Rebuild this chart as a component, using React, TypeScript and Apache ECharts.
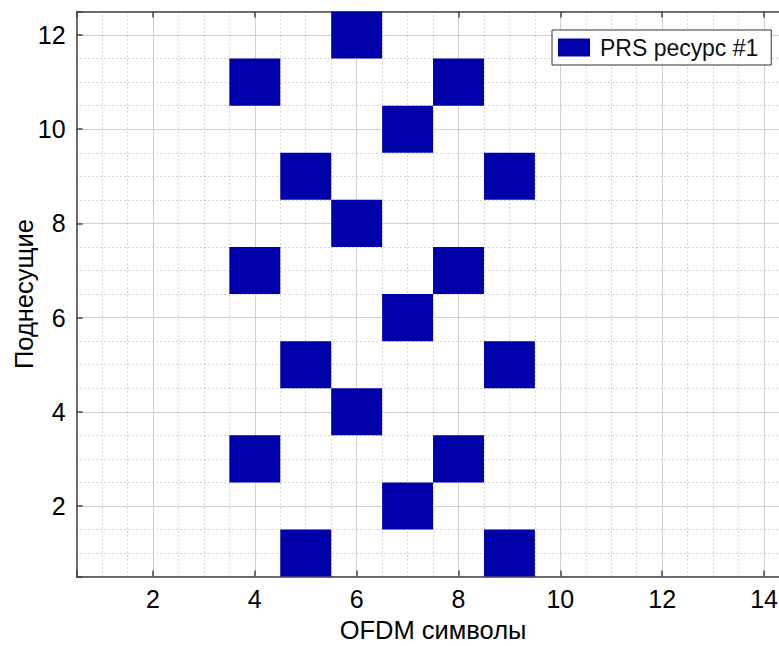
import React, { useEffect, useRef } from "react";
import * as echarts from "echarts";

// Data: each block is one PRS resource element (OFDM symbol, subcarrier)
const ofdmSymbols = [5, 9, 7, 4, 8, 6, 5, 9, 7, 4, 8, 6, 5, 9, 7, 4, 8, 6];
const subcarriers = [1, 1, 2, 3, 3, 4, 5, 5, 6, 7, 7, 8, 9, 9, 10, 11, 11, 12];
const seriesName = "PRS ресурс #1";
const xTitle = "OFDM символы";
const yTitle = "Поднесущие";
const xRange = [0.5, 14.5];
const yRange = [0.5, 12.5];

const FONT = "'Liberation Sans Narrow', 'Arial Narrow', 'Liberation Sans', Arial, sans-serif";
const BLUE = "#0000aa";

export default function App() {
  const ref = useRef<HTMLDivElement>(null);
  useEffect(() => {
    document.body.style.margin = "0";
    const chart = echarts.init(ref.current!, null, { renderer: "svg" });
    const data = ofdmSymbols.map((x, i) => [x, subcarriers[i]]);
    const evenLabel = (v: number) => (Math.abs(v - Math.round(v)) < 1e-6 ? String(v) : "");
    const dotted = { color: "#aaaaaa", width: 1, type: [1, 3] as any };
    chart.setOption({
      animation: false,
      backgroundColor: "#fff",
      textStyle: { fontFamily: FONT },
      grid: { left: 76.6, top: 11.5, right: -10.5, bottom: 69.4, containLabel: false, outerBoundsMode: "none" },
      legend: {
        data: [seriesName],
        left: 552,
        top: 30,
        icon: "rect",
        itemWidth: 32,
        itemHeight: 18,
        padding: [6, 13, 6, 6],
        borderColor: "#333",
        borderWidth: 1,
        backgroundColor: "#fff",
        textStyle: { fontSize: 23, color: "#111", fontFamily: FONT, lineHeight: 20, padding: [0, 0, 0, 5] },
      },
      xAxis: [
        {
          type: "value", min: xRange[0], max: xRange[1], interval: 0.5, position: "bottom",
          axisLine: { show: false }, axisTick: { show: false }, axisLabel: { show: false },
          splitLine: { show: true, lineStyle: dotted },
        },
        {
          type: "value", min: xRange[0], max: xRange[1], splitNumber: 7, position: "bottom",
          axisLine: { show: true, onZero: false, lineStyle: { color: "#444", width: 1.5 } },
          axisTick: { show: true, inside: true, length: 6, lineStyle: { color: "#444", width: 1.5 } },
          axisLabel: { show: true, fontSize: 25, color: "#000", margin: 10, formatter: evenLabel, fontFamily: FONT },
          splitLine: { show: true, lineStyle: { color: "#d0d0d0", width: 1 } },
          name: xTitle, nameLocation: "middle", nameGap: 40, nameMoveOverlap: false,
          nameTextStyle: { fontSize: 25.5, color: "#000", fontFamily: FONT },
        },
        {
          type: "value", min: xRange[0], max: xRange[1], splitNumber: 7, position: "top",
          axisLine: { show: true, onZero: false, lineStyle: { color: "#444", width: 1.5 } },
          axisTick: { show: true, inside: true, length: 6, lineStyle: { color: "#444", width: 1.5 } },
          axisLabel: { show: false }, splitLine: { show: false },
        },
      ],
      yAxis: [
        {
          type: "value", min: yRange[0], max: yRange[1], interval: 0.5, position: "left",
          axisLine: { show: false }, axisTick: { show: false }, axisLabel: { show: false },
          splitLine: { show: true, lineStyle: dotted },
        },
        {
          type: "value", min: yRange[0], max: yRange[1], splitNumber: 6, position: "left",
          axisLine: { show: true, onZero: false, lineStyle: { color: "#444", width: 1.5 } },
          axisTick: { show: true, inside: true, length: 6, lineStyle: { color: "#444", width: 1.5 } },
          axisLabel: { show: true, fontSize: 25, color: "#000", margin: 11, formatter: evenLabel, fontFamily: FONT },
          splitLine: { show: true, lineStyle: { color: "#d0d0d0", width: 1 } },
          name: yTitle, nameLocation: "middle", nameGap: 40, nameRotate: 90, nameMoveOverlap: false,
          nameTextStyle: { fontSize: 25.5, color: "#000", fontFamily: FONT },
        },
      ],
      series: [
        {
          type: "custom",
          name: seriesName,
          xAxisIndex: 1,
          yAxisIndex: 1,
          itemStyle: { color: BLUE },
          data,
          renderItem: (params: any, api: any) => {
            const x = api.value(0);
            const y = api.value(1);
            const p1 = api.coord([x - 0.5, y + 0.5]);
            const p2 = api.coord([x + 0.5, y - 0.5]);
            return {
              type: "rect",
              shape: { x: p1[0], y: p1[1], width: p2[0] - p1[0], height: p2[1] - p1[1] },
              style: { fill: BLUE },
            };
          },
          z: 5,
        },
      ],
    });
    return () => chart.dispose();
  }, []);
  return <div ref={ref} style={{ position: "fixed", left: 0, top: 0, width: 779, height: 646 }} />;
}
